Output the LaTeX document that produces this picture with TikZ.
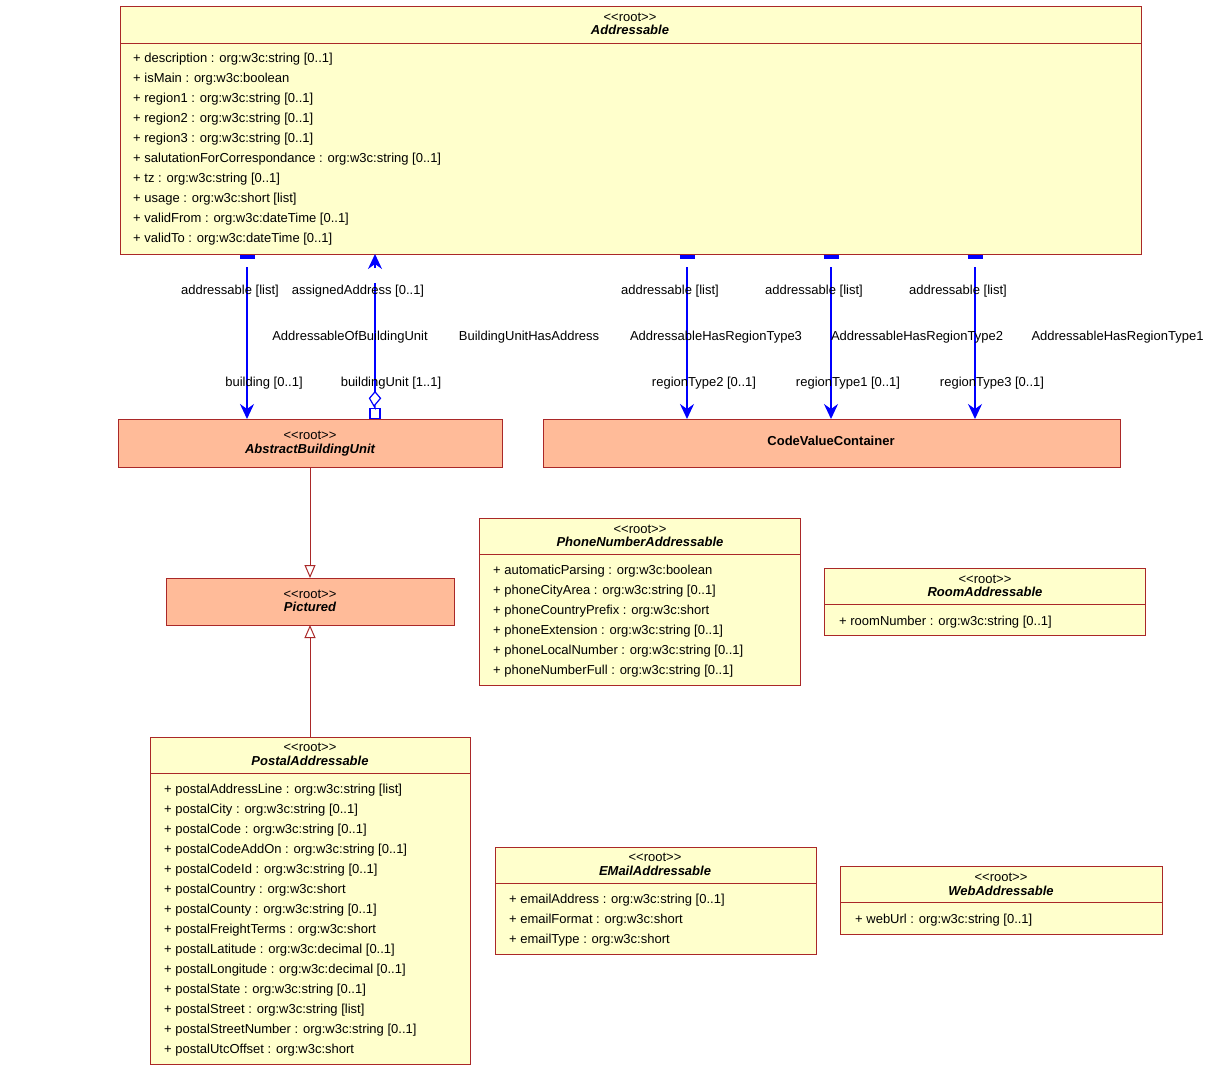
\documentclass[tikz,border=0pt]{standalone}
\usepackage{fontspec}
\setmainfont{Liberation Sans}
\usetikzlibrary{arrows.meta}
\definecolor{bord}{RGB}{170,40,40}
\definecolor{ylw}{RGB}{255,255,204}
\definecolor{salm}{RGB}{255,187,153}
\definecolor{assocblue}{RGB}{0,0,255}
\newcommand\stroot{<\kern0pt<root>\kern0pt>}
\tikzset{
  cls/.style={draw=bord, line width=1pt, fill=ylw, inner sep=0pt, outer sep=0pt},
  clsS/.style={cls, fill=salm},
  txt/.style={font=\fontsize{13}{15}\selectfont, inner sep=0pt},
  attr/.style={txt, anchor=base west},
  stereo/.style={txt, anchor=base},
  cname/.style={txt, anchor=base, font=\fontsize{13}{15}\selectfont\bfseries\itshape},
  lbl/.style={txt, anchor=base},
  assoc/.style={draw=assocblue, line width=1.6pt},
  navtip/.style={-{Stealth[length=15pt,width=14pt,inset=5pt]}},
  gen/.style={draw=bord, line width=1pt, -{Triangle[open,length=13pt,width=11pt,line width=1pt]}},
  divider/.style={draw=bord, line width=1pt},
  barmark/.style={draw=assocblue, line width=4pt},
}
\newcommand\attrlist[4]{%
  \foreach \t [count=\i from 0] in {#4} {\node[attr] (#1\i) at (#2, #3+20*\i) {\t};}}
\begin{document}
\begin{tikzpicture}[x=1pt,y=-1pt]
\useasboundingbox (0,0) rectangle (1209,1071);
\fill[white] (0,0) rectangle (1209,1071);

% ---------- Addressable ----------
\node[cls, minimum width=1021pt, minimum height=248pt] (addr) at (630.5,130) {};
\draw[divider] (addr.west |- 0,43) -- (addr.east |- 0,43);
\node[stereo] (addrS) at (630,21) {\stroot};
\node[cname] (addrN) at (630,34) {Addressable};
\attrlist{addrA}{133}{62}{{+ description : org:w3c:string [0..1]},{+ isMain : org:w3c:boolean},{+ region1 : org:w3c:string [0..1]},{+ region2 : org:w3c:string [0..1]},{+ region3 : org:w3c:string [0..1]},{+ salutationForCorrespondance : org:w3c:string [0..1]},{+ tz : org:w3c:string [0..1]},{+ usage : org:w3c:short [list]},{+ validFrom : org:w3c:dateTime [0..1]},{+ validTo : org:w3c:dateTime [0..1]}}

% ---------- AbstractBuildingUnit ----------
\node[clsS, minimum width=384pt, minimum height=48pt] (abu) at (310,443) {};
\node[stereo] (abuS) at (310,439) {\stroot};
\node[cname] (abuN) at (310,453) {AbstractBuildingUnit};

% ---------- CodeValueContainer ----------
\node[clsS, minimum width=577pt, minimum height=48pt] (cvc) at (831.5,443) {};
\node[txt, anchor=base, font=\fontsize{13}{15}\selectfont\bfseries] (cvcN) at (831,445.5) {CodeValueContainer};

% ---------- PhoneNumberAddressable ----------
\node[cls, minimum width=321pt, minimum height=167pt] (phone) at (639.5,601.5) {};
\draw[divider] (phone.west |- 0,554) -- (phone.east |- 0,554);
\node[stereo] (phoneS) at (640,533) {\stroot};
\node[cname] (phoneN) at (640,546) {PhoneNumberAddressable};
\attrlist{phoneA}{493}{574}{{+ automaticParsing : org:w3c:boolean},{+ phoneCityArea : org:w3c:string [0..1]},{+ phoneCountryPrefix : org:w3c:short},{+ phoneExtension : org:w3c:string [0..1]},{+ phoneLocalNumber : org:w3c:string [0..1]},{+ phoneNumberFull : org:w3c:string [0..1]}}

% ---------- RoomAddressable ----------
\node[cls, minimum width=321pt, minimum height=67pt] (room) at (984.5,601.5) {};
\draw[divider] (room.west |- 0,604) -- (room.east |- 0,604);
\node[stereo] (roomS) at (985,583) {\stroot};
\node[cname] (roomN) at (985,596) {RoomAddressable};
\attrlist{roomA}{839}{625}{{+ roomNumber : org:w3c:string [0..1]}}

% ---------- Pictured ----------
\node[clsS, minimum width=288pt, minimum height=47pt] (pict) at (310,601.5) {};
\node[stereo] (pictS) at (310,598) {\stroot};
\node[cname] (pictN) at (310,611) {Pictured};

% ---------- PostalAddressable ----------
\node[cls, minimum width=320pt, minimum height=327pt] (postal) at (310,900.5) {};
\draw[divider] (postal.west |- 0,773) -- (postal.east |- 0,773);
\node[stereo] (postalS) at (310,751) {\stroot};
\node[cname] (postalN) at (310,765) {PostalAddressable};
\attrlist{postalA}{164}{793}{{+ postalAddressLine : org:w3c:string [list]},{+ postalCity : org:w3c:string [0..1]},{+ postalCode : org:w3c:string [0..1]},{+ postalCodeAddOn : org:w3c:string [0..1]},{+ postalCodeId : org:w3c:string [0..1]},{+ postalCountry : org:w3c:short},{+ postalCounty : org:w3c:string [0..1]},{+ postalFreightTerms : org:w3c:short},{+ postalLatitude : org:w3c:decimal [0..1]},{+ postalLongitude : org:w3c:decimal [0..1]},{+ postalState : org:w3c:string [0..1]},{+ postalStreet : org:w3c:string [list]},{+ postalStreetNumber : org:w3c:string [0..1]},{+ postalUtcOffset : org:w3c:short}}

% ---------- EMailAddressable ----------
\node[cls, minimum width=321pt, minimum height=107pt] (email) at (655.5,900.5) {};
\draw[divider] (email.west |- 0,883) -- (email.east |- 0,883);
\node[stereo] (emailS) at (655,861) {\stroot};
\node[cname] (emailN) at (655,875) {EMailAddressable};
\attrlist{emailA}{509}{903}{{+ emailAddress : org:w3c:string [0..1]},{+ emailFormat : org:w3c:short},{+ emailType : org:w3c:short}}

% ---------- WebAddressable ----------
\node[cls, minimum width=322pt, minimum height=68pt] (web) at (1001,900) {};
\draw[divider] (web.west |- 0,902) -- (web.east |- 0,902);
\node[stereo] (webS) at (1001,881) {\stroot};
\node[cname] (webN) at (1001,895) {WebAddressable};
\attrlist{webA}{855}{923}{{+ webUrl : org:w3c:string [0..1]}}

% ---------- Generalizations ----------
\draw[gen] (abu.south) -- (pict.north);
\draw[gen] (postal.north) -- (pict.south);

% ---------- Association: building ----------
\draw[barmark] ([xshift=120pt,yshift=-3pt]addr.south west) -- ([xshift=135pt,yshift=-3pt]addr.south west);
\draw[assoc,navtip] ([xshift=127pt,yshift=-13pt]addr.south west) -- ([xshift=129pt]abu.north west);
\node[lbl] (l1a) at (230,294) {addressable [list]};
\node[lbl] (l1b) at (264,386) {building [0..1]};

% ---------- Association: buildingUnit / assignedAddress ----------
\node[draw=assocblue, line width=1.2pt, fill=white, minimum size=10pt, inner sep=0pt, anchor=south] (sq) at ([xshift=257pt]abu.north west) {};
\coordinate (dmB) at ([yshift=3pt]sq.north);
\draw[assoc, line width=1.2pt] (sq.north) -- (dmB) -- ++(5.5,-6.5) -- ++(-5.5,-6.5) coordinate (dmT) -- ++(-5.5,6.5) -- cycle;
\draw[assoc] (dmT) -- ([xshift=255pt,yshift=-29pt]addr.south west);
\draw[assoc,navtip] ([xshift=255pt,yshift=-14pt]addr.south west) -- ([xshift=255pt]addr.south west);
\node[lbl] (l2a) at (358,294) {assignedAddress [0..1]};
\node[lbl] (l2b) at (391,386) {buildingUnit [1..1]};
\node[lbl] (l2c) at (350,340) {AddressableOfBuildingUnit};
\node[lbl] (l2d) at (529,340) {BuildingUnitHasAddress};

% ---------- Associations to CodeValueContainer ----------
\foreach \ax/\n/\tx/\lx in {687/2/670/704, 831/1/814/848, 975/3/958/992} {
  \draw[barmark] ([xshift={\ax-120-7.5},yshift=-3pt]addr.south west) -- ([xshift={\ax-120+7.5},yshift=-3pt]addr.south west);
  \draw[assoc,navtip] ([xshift={\ax-120},yshift=-13pt]addr.south west) -- ([xshift={\ax-543}]cvc.north west);
  \node[lbl] at (\tx,294) {addressable [list]};
  \node[lbl] at (\lx,386) {regionType\n\ [0..1]};
}
\node[lbl] (n3) at (716,340) {AddressableHasRegionType3};
\node[lbl] (n2) at (917,340) {AddressableHasRegionType2};
\node[lbl] (n1) at (1117.5,340) {AddressableHasRegionType1};
\end{tikzpicture}
\end{document}
